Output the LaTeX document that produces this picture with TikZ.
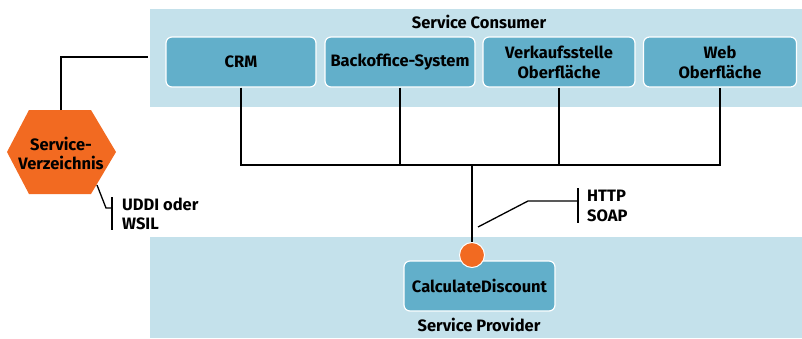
\documentclass[tikz,border=0pt]{standalone}
\usepackage{fontspec}
\setmainfont{Fira Sans}
\usetikzlibrary{positioning}
\definecolor{band}{HTML}{C4E1EB}
\definecolor{boxc}{HTML}{62AFCA}
\definecolor{orng}{HTML}{F26A21}
\tikzset{
  comp/.style={draw=white, line width=1.2pt, fill=boxc, rounded corners=6pt, align=center, font=\bfseries\fontsize{16.5}{20}\selectfont, inner sep=0pt},
  wire/.style={draw=black, line width=1.6pt},
  lbl/.style={font=\bfseries\fontsize{16.5}{19.5}\selectfont, align=left, anchor=west, inner sep=0pt},
  title/.style={font=\bfseries\fontsize{16.5}{19}\selectfont, inner sep=0pt}
}
\begin{document}
\begin{tikzpicture}[x=1pt,y=-1pt]
\useasboundingbox (0,0) rectangle (802,338);
% bands
\fill[band] (150,9) rectangle (802,107);
\fill[band] (150,237) rectangle (802,338);
\node[title] (cons) at (479,22) {Service Consumer};
\node[title] (prov) at (479,325) {Service Provider};
% consumer boxes
\node[comp, minimum width=150pt, minimum height=50pt] (crm) at (241,62) {CRM};
\node[comp, minimum width=150pt, minimum height=50pt] (bo) at (400,62) {Backoffice-System};
\node[comp, minimum width=152pt, minimum height=50pt] (vk) at (559,62) {Verkaufsstelle\\Oberfläche};
\node[comp, minimum width=153pt, minimum height=50pt] (web) at (720,62) {Web\\Oberfläche};
% provider
\node[comp, minimum width=151pt, minimum height=50pt] (calc) at (479.5,286) {CalculateDiscount};
\node[circle, fill=orng, draw=white, line width=1pt, minimum size=25pt, inner sep=0pt] (port) at (472,255) {};
% bus
\coordinate (j1) at (241,165);
\coordinate (j2) at (400,165);
\coordinate (j3) at (559,165);
\coordinate (j4) at (720,165);
\coordinate (jm) at (472,165);
\draw[wire] (crm.south) -- (j1) -- (j4) -- (web.south);
\draw[wire] (bo.south) -- (j2);
\draw[wire] (vk.south) -- (j3);
\draw[wire] (jm) -- (port.north);
% hexagon
\fill[orng] (29,110) -- (91,110) -- (116,152) -- (91,194) -- (29,194) -- (7,152) -- cycle;
\node[font=\bfseries\fontsize{16.5}{19}\selectfont, align=center, inner sep=0pt] (hexlbl) at (61,153) {Service-\\Verzeichnis};
\coordinate (hextop) at (61,110);
\coordinate (c1) at (61,57);
\coordinate (c2) at (148,57);
\draw[wire] (hextop) -- (c1) -- (c2);
% UDDI annotation
\coordinate (u0) at (97,185);
\coordinate (u1) at (106,208);
\coordinate (u2) at (112,208);
\coordinate (ut) at (112,197);
\coordinate (ub) at (112,230);
\draw[wire, line width=1.3pt] (u0) -- (u1) -- (u2);
\draw[wire, line width=1.3pt] (ut) -- (ub);
\node[lbl] (uddi) at (122,214) {UDDI oder\\WSIL};
% HTTP annotation
\coordinate (h0) at (478,227);
\coordinate (h1) at (528,201);
\coordinate (h2) at (578,201);
\coordinate (ht) at (578,188);
\coordinate (hb) at (578,223);
\draw[wire, line width=1.3pt] (h0) -- (h1) -- (h2);
\draw[wire, line width=1.3pt] (ht) -- (hb);
\node[lbl] (http) at (587,206) {HTTP\\SOAP};
\end{tikzpicture}
\end{document}
